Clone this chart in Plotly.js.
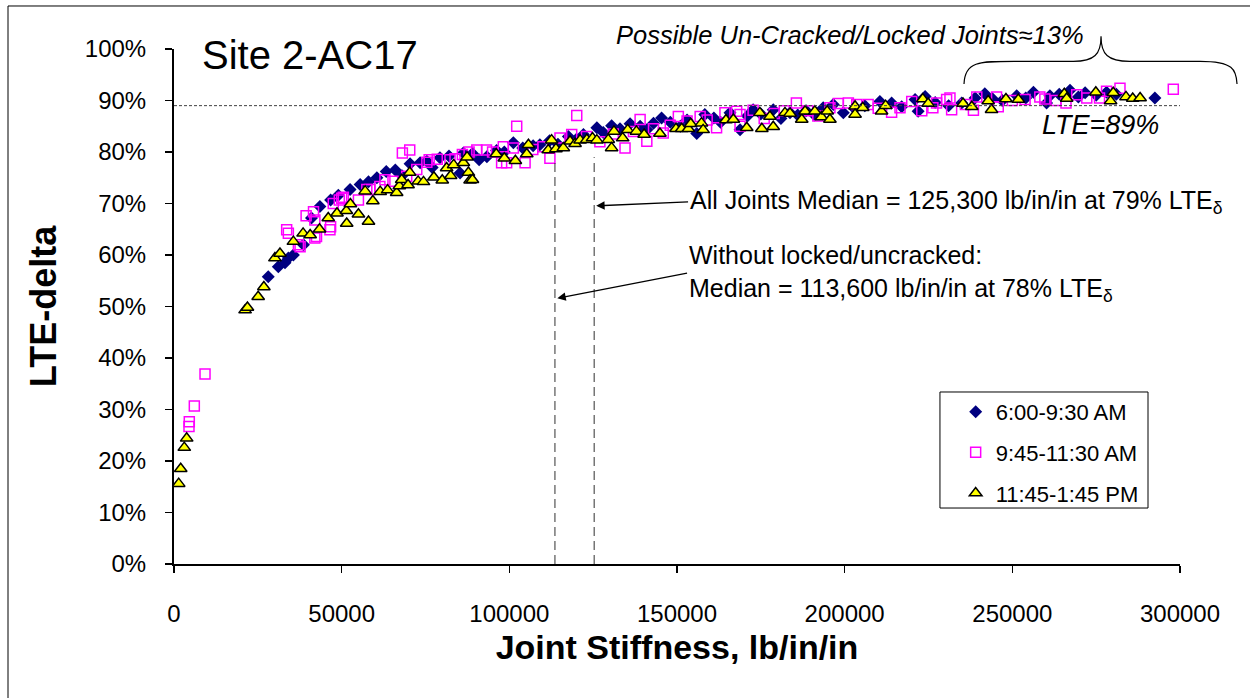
<!DOCTYPE html>
<html>
<head>
<meta charset="utf-8">
<script src="https://cdn.plot.ly/plotly-3.0.1.min.js"></script>
<style>
  html, body { margin: 0; padding: 0; background: #fff; }
  #chart { width: 1250px; height: 698px; }
</style>
</head>
<body>
<div id="chart"></div>
<script>
// Joint stiffness (lb/in/in) vs. load transfer efficiency, three testing windows
const seriesNames = ['6:00-9:30 AM', '9:45-11:30 AM', '11:45-1:45 PM'];

const morningStiffness = [
  28100, 31100, 33100, 34100, 35600, 38600, 41000, 43500, 46700, 49000, 52500, 55500, 58000, 60500,
  63300, 66000, 68000, 70400, 73400, 75400, 77000, 79300, 82000, 85300, 86300, 89000, 91000, 93300,
  96200, 98500, 101200, 104000, 107100, 109100, 112000, 114500, 117600, 120000, 122100, 126100, 128000,
  130500, 133000, 136000, 139000, 141000, 143000, 145400, 148000, 151000, 153000, 155900, 158300, 161000,
  163000, 165800, 168800, 171000, 172700, 175000, 178700, 181000, 183700, 186000, 188500, 191000, 193600,
  196600, 199600, 203000, 206000, 210500, 214000, 217000, 221000, 221900, 224000, 227000, 231000, 234900,
  238900, 241800, 244000, 247000, 251300, 254000, 256300, 260200, 261200, 264000, 267200, 269700, 271700,
  275000, 278100, 281000, 292500
];
const morningLTE = [
  0.558, 0.577, 0.585, 0.594, 0.600, 0.620, 0.672, 0.694, 0.707, 0.716, 0.727, 0.737, 0.742, 0.750,
  0.762, 0.765, 0.754, 0.777, 0.779, 0.782, 0.770, 0.789, 0.792, 0.759, 0.798, 0.797, 0.785, 0.791,
  0.803, 0.800, 0.818, 0.808, 0.812, 0.814, 0.822, 0.815, 0.830, 0.825, 0.834, 0.847, 0.838,
  0.851, 0.845, 0.855, 0.850, 0.843, 0.856, 0.866, 0.858, 0.850, 0.862, 0.836, 0.873, 0.866,
  0.858, 0.876, 0.843, 0.870, 0.882, 0.874, 0.882, 0.865, 0.876, 0.872, 0.880, 0.872, 0.886,
  0.892, 0.876, 0.884, 0.890, 0.898, 0.895, 0.888, 0.902, 0.879, 0.908, 0.896, 0.890, 0.895,
  0.905, 0.913, 0.904, 0.900, 0.909, 0.905, 0.916, 0.895, 0.909, 0.912, 0.920, 0.907, 0.915,
  0.910, 0.916, 0.912, 0.905
];

const middayStiffness = [
  4470, 4560, 6060, 9250, 33600, 34100, 37100, 37600, 39400, 41600, 42000, 42000, 42500, 46500, 46700,
  47500, 49300, 50000, 50500, 55000, 57500, 58400, 61400, 62900, 65300, 68100, 69400, 70300, 72400,
  75400, 76100, 78500, 82300, 83800, 86000, 88000, 90300, 93200, 95000, 97700, 98200, 99200, 101200,
  102200, 104700, 107000, 110000, 112100, 115100, 118600, 120100, 123000, 127000, 131000, 134500, 137000,
  139000, 141000, 143000, 145900, 148000, 150400, 153000, 156900, 159000, 161800, 164300, 167800, 168800,
  168800, 172700, 176000, 179000, 182000, 185600, 189000, 192000, 195600, 198100, 201100, 203600, 207000,
  210000, 214000, 216500, 220000, 223000, 226300, 227400, 230400, 231400, 231900, 236000, 238400, 239400,
  245300, 245800, 250000, 253800, 258200, 259700, 263000, 266000, 269200, 272200, 276000, 278100, 282100,
  298000
];
const middayLTE = [
  0.267, 0.276, 0.307, 0.369, 0.649, 0.642, 0.620, 0.616, 0.676, 0.684, 0.668, 0.633, 0.636, 0.649, 0.655,
  0.700, 0.707, 0.710, 0.712, 0.707, 0.727, 0.727, 0.733, 0.746, 0.743, 0.798, 0.753, 0.804, 0.766,
  0.780, 0.785, 0.786, 0.785, 0.787, 0.795, 0.800, 0.804, 0.804, 0.800, 0.779, 0.810, 0.779, 0.808,
  0.850, 0.779, 0.805, 0.810, 0.788, 0.827, 0.834, 0.871, 0.830, 0.820, 0.835, 0.808, 0.840,
  0.863, 0.821, 0.845, 0.837, 0.852, 0.869, 0.860, 0.869, 0.862, 0.847, 0.876, 0.879, 0.873,
  0.850, 0.881, 0.865, 0.875, 0.880, 0.895, 0.880, 0.870, 0.886, 0.894, 0.895, 0.892, 0.892,
  0.885, 0.877, 0.886, 0.898, 0.880, 0.886, 0.895, 0.902, 0.905, 0.882, 0.892, 0.881, 0.907,
  0.907, 0.888, 0.900, 0.902, 0.907, 0.903, 0.900, 0.895, 0.911, 0.905, 0.905, 0.918, 0.924,
  0.922
];

const afternoonStiffness = [
  1400, 2000, 3070, 3780, 21200, 21900, 25100, 26800, 30100, 31600, 35600, 38500, 40600, 43400, 46000,
  48600, 51400, 51500, 52600, 55000, 57000, 58000, 59300, 61500, 63700, 66400, 67200, 67900, 69800,
  70300, 72800, 74400, 77500, 80000, 81300, 82500, 83400, 86300, 87400, 87800, 88300, 89000, 96100,
  98500, 101800, 105200, 105700, 111600, 112600, 113900, 116100, 118100, 119600, 121100, 123100, 124800,
  126100, 129500, 130500, 131200, 133800, 135300, 137900, 140200, 144900, 149700, 151400, 153400, 154100,
  157300, 157800, 164600, 166800, 170800, 174700, 175300, 177700, 178700, 182200, 183700, 187200, 188200,
  191100, 193100, 194800, 195600, 203100, 203100, 205400, 211000, 212200, 223300, 224900, 235300, 237900,
  242800, 243800, 248100, 251800, 265500, 266200, 274900, 279300, 280100, 283900, 285900, 288100
];
const afternoonLTE = [
  0.156, 0.185, 0.226, 0.244, 0.493, 0.498, 0.519, 0.538, 0.594, 0.603, 0.626, 0.642, 0.639, 0.650, 0.672,
  0.681, 0.686, 0.661, 0.699, 0.679, 0.724, 0.665, 0.705, 0.723, 0.726, 0.721, 0.734, 0.746, 0.736,
  0.760, 0.743, 0.742, 0.751, 0.745, 0.769, 0.754, 0.775, 0.779, 0.790, 0.760, 0.745, 0.746, 0.796,
  0.788, 0.783, 0.796, 0.814, 0.804, 0.823, 0.806, 0.808, 0.821, 0.816, 0.823, 0.824, 0.827,
  0.823, 0.824, 0.808, 0.840, 0.827, 0.843, 0.840, 0.834, 0.836, 0.845, 0.845, 0.845, 0.855,
  0.856, 0.843, 0.862, 0.863, 0.847, 0.876, 0.845, 0.869, 0.849, 0.876, 0.875, 0.863, 0.879,
  0.879, 0.868, 0.879, 0.863, 0.889, 0.873, 0.886, 0.879, 0.890, 0.903, 0.894, 0.894, 0.888,
  0.899, 0.882, 0.903, 0.902, 0.913, 0.904, 0.916, 0.899, 0.915, 0.907, 0.904, 0.905
];

// Reference levels
const lockedJointLTE = 0.89;
const medianStiffness = [113600, 125300];   // without locked joints, all joints
const medianLTE = [0.78, 0.79];

const xTickVals = [0, 50000, 100000, 150000, 200000, 250000, 300000];
const xTickText = ['0', '50000', '100000', '150000', '200000', '250000', '300000'];

const FONT = 'Liberation Sans, Arial, Helvetica, sans-serif';

const traces = [
  {
    x: morningStiffness, y: morningLTE, name: seriesNames[0],
    type: 'scatter', mode: 'markers', legendgroup: 'a',
    marker: { symbol: 'diamond', size: 10, color: '#000080', line: { width: 0 } }
  },
  {
    x: middayStiffness, y: middayLTE, name: seriesNames[1],
    type: 'scatter', mode: 'markers', legendgroup: 'b',
    marker: { symbol: 'square-open', size: 10, color: '#FF00FF', line: { width: 1.5, color: '#FF00FF' } }
  },
  {
    x: afternoonStiffness, y: afternoonLTE, name: seriesNames[2],
    type: 'scatter', mode: 'markers', legendgroup: 'c',
    marker: { symbol: 'triangle-up', size: 11, color: '#FFFF00', line: { width: 1.5, color: '#000000' } }
  }
];

const shapes = [
  // outer frame
  { type: 'rect', xref: 'paper', yref: 'paper', x0: -0.165, x1: 1.2, y0: -0.4, y1: 1.0835,
    line: { color: '#000', width: 1 }, fillcolor: 'rgba(0,0,0,0)', layer: 'below' },
  // locked-joint LTE level
  { type: 'line', xref: 'x', yref: 'y', x0: 0, x1: 300000, y0: lockedJointLTE, y1: lockedJointLTE,
    line: { color: '#404040', width: 1, dash: '3px,2px' } },
  // median stiffness markers
  { type: 'line', xref: 'x', yref: 'y', x0: medianStiffness[0], x1: medianStiffness[0], y0: 0, y1: medianLTE[0],
    line: { color: '#303030', width: 1, dash: '9px,5px' } },
  { type: 'line', xref: 'x', yref: 'y', x0: medianStiffness[1], x1: medianStiffness[1], y0: 0, y1: medianLTE[1],
    line: { color: '#303030', width: 1, dash: '9px,5px' } },
  // brace over the locked-joint group
  { type: 'path', xref: 'paper', yref: 'paper',
    path: 'M 0.7853 0.9320 C 0.7860 0.9760, 0.8000 0.9760, 0.8350 0.9760 L 0.8940 0.9760 ' +
          'C 0.9150 0.9760, 0.9215 0.9900, 0.9215 1.0250 ' +
          'C 0.9215 0.9900, 0.9280 0.9760, 0.9500 0.9760 L 1.0200 0.9760 ' +
          'C 1.0530 0.9760, 1.0560 0.9600, 1.0567 0.9320',
    line: { color: '#000', width: 1.2 } },
  // legend frame
  { type: 'rect', xref: 'paper', yref: 'paper', x0: 0.7614, x1: 0.9682, y0: 0.1087, y1: 0.334,
    line: { color: '#000', width: 1 }, fillcolor: 'rgba(0,0,0,0)' }
];

const annotations = [
  { xref: 'paper', yref: 'paper', x: 0.0258, y: 0.988, xanchor: 'left', yanchor: 'middle',
    text: 'Site 2-AC17', showarrow: false, font: { family: FONT, size: 40, color: '#000' } },
  { xref: 'paper', yref: 'paper', x: 0.6715, y: 1.027, xanchor: 'center', yanchor: 'middle',
    text: '<i>Possible Un-Cracked/Locked Joints\u224813%</i>', showarrow: false,
    font: { family: FONT, size: 25.5, color: '#000' } },
  { xref: 'paper', yref: 'paper', x: 0.9205, y: 0.853, xanchor: 'center', yanchor: 'middle',
    text: '<i>LTE=89%</i>', showarrow: false, font: { family: FONT, size: 27, color: '#000' } },
  // median callouts, each with an arrow to its stiffness line
  { xref: 'x', yref: 'y', axref: 'x', ayref: 'y', x: 125900, y: 0.6955, ax: 153300, ay: 0.703,
    xanchor: 'left', yanchor: 'middle', align: 'left',
    text: 'All Joints Median = 125,300 lb/in/in at 79% LTE<sub>\u03b4</sub>',
    showarrow: true, arrowhead: 2, arrowsize: 1.3, arrowwidth: 1.3, arrowcolor: '#000',
    font: { family: FONT, size: 25, color: '#000' } },
  { xref: 'x', yref: 'y', axref: 'x', ayref: 'y', x: 114300, y: 0.516, ax: 153000, ay: 0.565,
    xanchor: 'left', yanchor: 'middle', align: 'left',
    text: 'Without locked/uncracked:<br>Median = 113,600 lb/in/in at 78% LTE<sub>\u03b4</sub>',
    showarrow: true, arrowhead: 2, arrowsize: 1.3, arrowwidth: 1.3, arrowcolor: '#000',
    font: { family: FONT, size: 25, color: '#000' } }
];

const layout = {
  width: 1250, height: 698,
  margin: { l: 174, r: 70, t: 49, b: 134, pad: 0 },
  paper_bgcolor: '#fff', plot_bgcolor: '#fff',
  font: { family: FONT, color: '#000' },
  showlegend: true,
  legend: {
    x: 0.777, y: 0.336, xanchor: 'left', yanchor: 'top',
    bgcolor: 'rgba(0,0,0,0)', borderwidth: 0,
    font: { family: FONT, size: 22, color: '#000' },
    tracegroupgap: 9
  },
  xaxis: {
    range: [0, 300000], tickvals: xTickVals, ticktext: xTickText,
    ticks: 'outside', ticklen: 7, tickwidth: 1.5, tickcolor: '#000',
    showline: true, linewidth: 2, linecolor: '#000', showgrid: false, zeroline: false,
    tickfont: { family: FONT, size: 24 }, ticklabelstandoff: 20,
    title: { text: '<b>Joint Stiffness, lb/in/in</b>', font: { family: FONT, size: 34 }, standoff: 9 }
  },
  yaxis: {
    range: [0, 1], dtick: 0.1, tickformat: '.0%',
    ticks: 'outside', ticklen: 7, tickwidth: 1.5, tickcolor: '#000',
    showline: true, linewidth: 2, linecolor: '#000', showgrid: false, zeroline: false,
    tickfont: { family: FONT, size: 24 }, ticklabelstandoff: 14,
    title: { text: '<b>LTE-delta</b>', font: { family: FONT, size: 36 }, standoff: 17 }
  },
  shapes: shapes,
  annotations: annotations
};

Plotly.newPlot('chart', traces, layout, { staticPlot: true, displayModeBar: false });
</script>
</body>
</html>
